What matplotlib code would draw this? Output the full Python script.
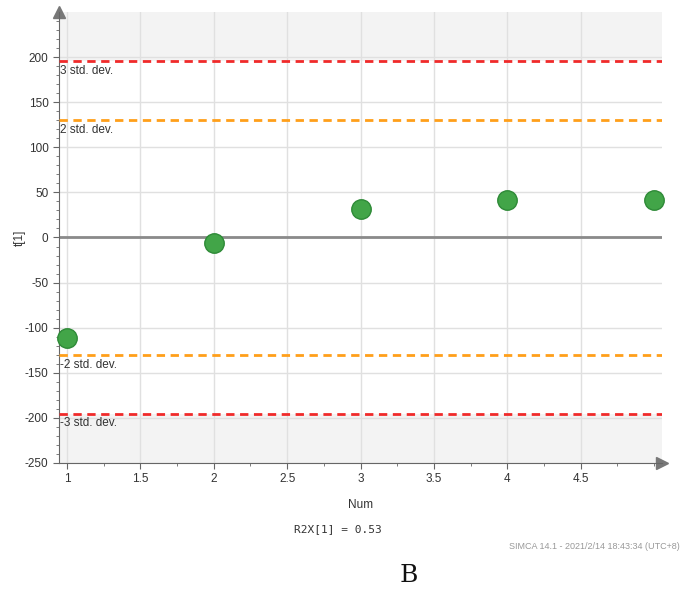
import matplotlib
matplotlib.use("Agg")
import matplotlib.pyplot as plt
from matplotlib.ticker import MultipleLocator

plt.rcParams['font.family'] = ['Liberation Sans Narrow', 'Liberation Sans', 'DejaVu Sans']
plt.rcParams['axes.unicode_minus'] = False

# score values t[1] per observation
num = [1, 2, 3, 4, 5]
t1 = [-111, -6, 32, 42, 42]

# control limits
sd2 = 130.3
sd3 = 195.5

xticks = [1, 1.5, 2, 2.5, 3, 3.5, 4, 4.5]
yticks = [-250, -200, -150, -100, -50, 0, 50, 100, 150, 200]

fig = plt.figure(figsize=(6.84, 5.91), dpi=100)
ax = fig.add_axes([0.0863, 0.2166, 0.8817, 0.7631])

ax.set_xlim(0.946, 5.054)
ax.set_ylim(-250, 250)

# shaded region beyond 3 std. dev.
ax.axhspan(sd3, 250, color='#f3f3f3', zorder=0, lw=0)
ax.axhspan(-250, -sd3, color='#f3f3f3', zorder=0, lw=0)

ax.set_xticks(xticks)
ax.set_xticklabels([f'{v:g}' for v in xticks])
ax.set_yticks(yticks)
ax.set_yticklabels([str(v) for v in yticks])
ax.xaxis.set_minor_locator(MultipleLocator(0.25))
ax.yaxis.set_minor_locator(MultipleLocator(10))
ax.grid(True, which='major', color='#e0e0e0', lw=1, zorder=1)

ax.axhline(0, color='#8a8a8a', lw=2, zorder=2)

for v, c in [(sd3, '#f02a2a'), (sd2, '#ff9f1a'), (-sd2, '#ff9f1a'), (-sd3, '#f02a2a')]:
    ax.axhline(v, color=c, lw=2, ls=(0, (3, 2)), zorder=3)

lab_kw = dict(fontsize=8.5, color='#333333', va='top', ha='left', zorder=4)
ax.text(0.952, sd3 - 4, '3 std. dev.', **lab_kw)
ax.text(0.952, sd2 - 4, '2 std. dev.', **lab_kw)
ax.text(0.952, -sd2 - 4, '-2 std. dev.', **lab_kw)
ax.text(0.952, -sd3 - 4, '-3 std. dev.', **lab_kw)

ax.plot(num, t1, 'o', ms=14, mfc='#42a548', mec='#2e8a37', mew=1,
        zorder=5, clip_on=False)

for s in ['top', 'right']:
    ax.spines[s].set_visible(False)
for s in ['left', 'bottom']:
    ax.spines[s].set_color('#666666')
ax.tick_params(which='both', colors='#666666', labelcolor='#333333', labelsize=8.5)
ax.tick_params(which='major', length=4)
ax.tick_params(which='minor', length=2)

# arrow heads on the axes
ax.plot(0, 1, '^', transform=ax.transAxes, color='#777777', ms=8, clip_on=False)
ax.plot(1, 0, '>', transform=ax.transAxes, color='#777777', ms=8, clip_on=False)

ax.set_ylabel('t[1]', fontsize=8.5, color='#333333', labelpad=-1)
ax.set_xlabel('Num', fontsize=8.5, color='#333333', labelpad=10)

fig.text(0.494, 0.104, 'R2X[1] = 0.53', family='DejaVu Sans Mono', fontsize=8,
         color='#333333', ha='center', va='center')
fig.text(0.994, 0.075, 'SIMCA 14.1 - 2021/2/14 18:43:34 (UTC+8)', fontsize=6.5,
         color='#999999', ha='right', va='center')
fig.text(0.597, 0.027, 'B', family='DejaVu Serif', fontsize=18, color='#111111',
         ha='center', va='center')

fig.savefig('out.png', dpi=100)
